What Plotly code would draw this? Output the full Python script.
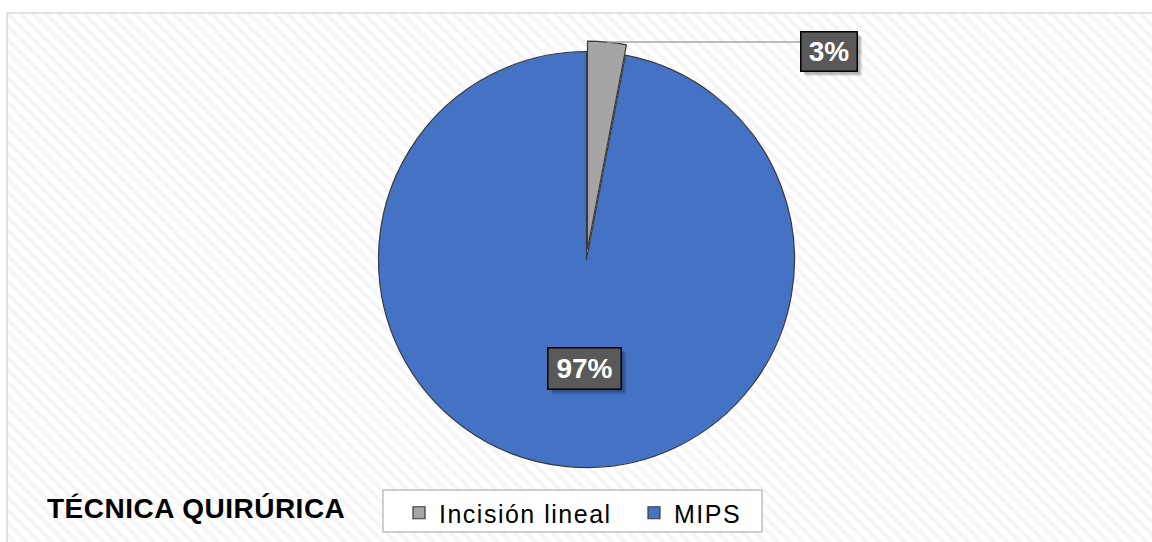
import math
import plotly.graph_objects as go

# Data
categories = ["Incisión lineal", "MIPS"]
values = [3, 97]
colors = ["#A5A5A5", "#4472C4"]
pulls = [0.05, 0.0]
title_text = "TÉCNICA QUIRÚRICA"

W, H = 1152, 542
FONT = "Liberation Sans, Arial, sans-serif"

# Pie geometry in pixels (center, radius) -> paper domain
cx, cy, r = 586.5, 259.5, 208.0
half = r * (1 + max(pulls))
dom_x = [(cx - half) / W, (cx + half) / W]
dom_y = [1 - (cy + half) / H, 1 - (cy - half) / H]

total = sum(values)
pct = [v / total for v in values]


def px(x):
    return x / W


def py(y):
    return 1 - y / H


def spaced(text, ls):
    return f'<span style="letter-spacing:{ls}px">{text}</span>'


fig = go.Figure()

# Hatched plot-area background
fig.add_trace(go.Scatter(
    x=[0, 1, 1, 0, 0], y=[0, 0, 1, 1, 0],
    mode="lines", fill="toself", line=dict(width=0),
    fillcolor="white",
    fillpattern=dict(shape="\\", fgcolor="#ebebeb", bgcolor="white",
                     size=9, solidity=0.45),
    hoverinfo="skip", showlegend=False,
))

fig.add_trace(go.Pie(
    labels=[spaced(c, 1.5) for c in categories], values=values,
    marker=dict(colors=colors, line=dict(color="#3a3a3a", width=1.2)),
    pull=pulls, sort=False, direction="clockwise", rotation=0,
    textinfo="none", hoverinfo="label+percent",
    domain=dict(x=dom_x, y=dom_y),
))

# Leader line from the outer edge of the small slice to its label
mid = pct[0] * math.pi
edge_r = r * (1 + pulls[0])
lx0 = cx + edge_r * math.sin(mid)
ly0 = cy - edge_r * math.cos(mid)
fig.add_shape(type="line", xref="paper", yref="paper",
              x0=px(lx0), y0=py(ly0), x1=px(801), y1=py(ly0),
              line=dict(color="#a6a6a6", width=1.5), layer="above")

# Chart frame
fig.add_shape(type="rect", xref="paper", yref="paper",
              x0=px(7), y0=-0.01, x1=1.01, y1=py(13),
              line=dict(color="#d9d9d9", width=1.5), layer="above")

# Legend frame
fig.add_shape(type="rect", xref="paper", yref="paper",
              x0=px(383), y0=py(532), x1=px(762), y1=py(490),
              fillcolor="white", line=dict(color="#bfbfbf", width=1.5),
              layer="above")


def pct_label(text, cxl, cyl, w, h):
    # soft drop shadow
    for off, a in [(5, 0.07), (4, 0.10), (3, 0.13)]:
        fig.add_annotation(
            x=px(cxl + off), y=py(cyl + off), xref="paper", yref="paper",
            xanchor="center", yanchor="middle",
            text=" ", showarrow=False, width=w, height=h,
            font=dict(family=FONT, size=28, color="rgba(0,0,0,0)"),
            bgcolor=f"rgba(0,0,0,{a})", borderpad=1, borderwidth=1.5,
            bordercolor="rgba(0,0,0,0)",
        )
    fig.add_annotation(
        x=px(cxl), y=py(cyl), xref="paper", yref="paper",
        xanchor="center", yanchor="middle",
        text=f"<b>{text}</b>", showarrow=False, width=w, height=h,
        font=dict(family=FONT, size=28, color="white"),
        bgcolor="#595959", bordercolor="#000000", borderwidth=1.5, borderpad=1,
    )


pct_label(f"{round(pct[0] * 100)}%", 829, 51.5, 53, 36)
pct_label(f"{round(pct[1] * 100)}%", 584.5, 368.5, 70, 38)

fig.add_annotation(
    x=px(45), y=py(508), xref="paper", yref="paper",
    xanchor="left", yanchor="middle", showarrow=False,
    text=f"<b>{spaced(title_text, 0.5)}</b>",
    font=dict(family=FONT, size=28, color="#000000"),
)

fig.update_layout(
    width=W, height=H,
    margin=dict(l=0, r=0, t=0, b=0),
    paper_bgcolor="white", plot_bgcolor="rgba(0,0,0,0)",
    xaxis=dict(visible=False, range=[0, 1], domain=[px(8), 1], fixedrange=True),
    yaxis=dict(visible=False, range=[0, 1], domain=[0, py(14)], fixedrange=True),
    showlegend=True,
    legend=dict(
        orientation="h", x=px(399), y=py(513), xanchor="left", yanchor="middle",
        bgcolor="rgba(0,0,0,0)", borderwidth=0,
        font=dict(family=FONT, size=25, color="#000000"),
        entrywidth=190, entrywidthmode="pixels",
    ),
)

fig.write_html("out.html")
